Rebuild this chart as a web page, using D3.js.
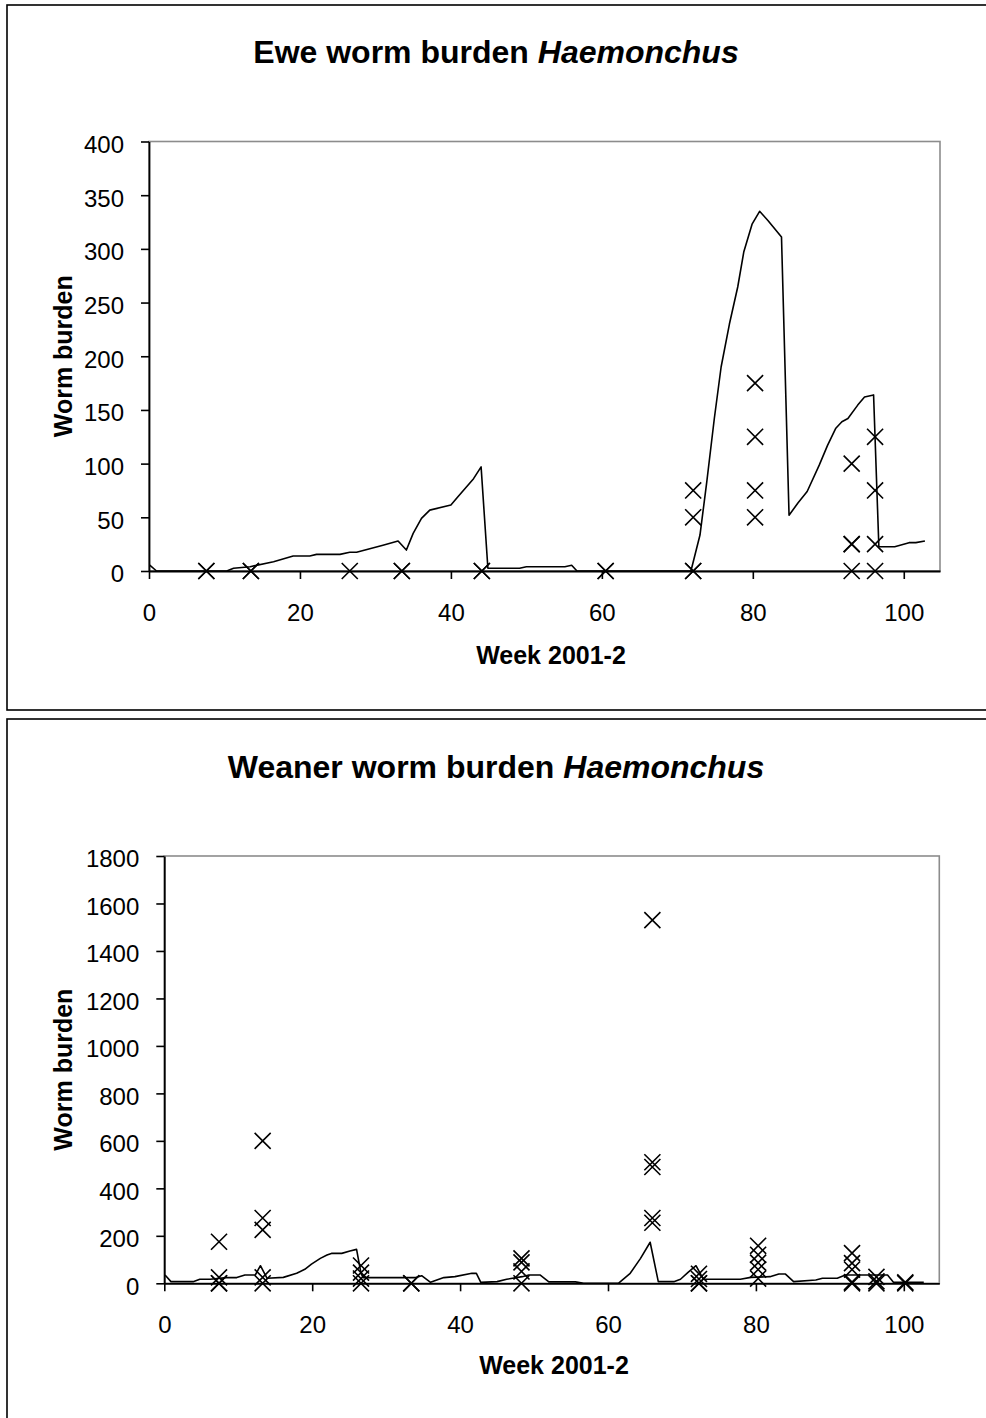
<!DOCTYPE html>
<html>
<head>
<meta charset="utf-8">
<script src="https://cdn.jsdelivr.net/npm/d3@7"></script>
<style>
  body { margin: 0; background: #fff; }
  svg { display: block; font-family: "Liberation Sans", Arial, sans-serif; }
</style>
</head>
<body>
<div class="wormCharts"></div>
<script>
// tick labels
const weekTicks = [0, 20, 40, 60, 80, 100];
const eweTicks = [0, 50, 100, 150, 200, 250, 300, 350, 400];
const weanerTicks = [0, 200, 400, 600, 800, 1000, 1200, 1400, 1600, 1800];

// ewe model line (week, burden)
const eweLineWeek = [0.1, 1, 10.3, 11.2, 13.4, 16.5, 19.1, 21.3, 22.2, 25.3, 26.6, 27.5, 31, 33, 34.1, 35, 36.1, 37.2,
  40, 40.9, 43, 44, 44.9, 49.1, 50, 55.1, 56, 56.7, 71.8, 73, 73.9, 74.9, 75.8, 76.9, 78, 78.8, 79.9, 80.9, 82,
  83.8, 84.8, 86, 87.2, 88.8, 89.9, 91, 91.8, 92.6, 93.9, 94.8, 96, 96.7, 98.8, 100.7, 101.6, 102.8];
const eweLineBurden = [5.5, 0, 0, 2.5, 4, 8.7, 14, 14, 15.5, 15.5, 17.4, 17.4, 24, 28, 19.5, 35, 49, 56.7,
  61.4, 69, 86, 97, 2.5, 2.5, 4, 4, 5.3, 0, 0, 33.5, 83, 142, 190, 230, 264.5, 297, 323, 335, 326.5,
  311, 52, 63.5, 74, 98.6, 117, 133, 139, 142, 154.5, 162, 164, 22.6, 22.6, 26.4, 26.4, 28];

// ewe observed counts
const eweObsWeek = [7.6, 7.6, 13.5, 13.5, 26.6, 33.5, 33.5, 44.1, 44.1, 60.5, 60.5, 72.1, 72.1, 72.1, 72.1,
  80.3, 80.3, 80.3, 80.3, 93.1, 93.1, 93.1, 93.1, 96.2, 96.2, 96.2, 96.2];
const eweObsBurden = [0, 0, 0, 0, 0, 0, 0, 0, 0, 0, 0, 75, 50, 0, 0,
  175, 125, 75, 50, 100, 25, 25, 0, 125, 75, 25, 0];

// weaner model line (week, burden)
const weanerLineWeek = [0.1, 0.9, 3.9, 4.8, 6.2, 8.4, 9.8, 10.9, 12.3, 13, 13.9, 16.1, 17.9, 19, 19.9, 21.1, 22,
  22.6, 24, 25.1, 26, 26.6, 26.9, 34, 34.8, 36, 37.8, 39.3, 41.6, 42.2, 42.8, 45, 46.3, 48.4, 49.3, 50.8, 52,
  55.6, 56.7, 61.4, 63, 64.4, 65.7, 66.8, 68.9, 69.8, 70.9, 71.9, 72.9, 77.9, 79.3, 81.9, 83.1, 84, 85.1,
  88.1, 89, 91, 92.1, 97.8, 98.6, 102.7];
const weanerLineBurden = [35, 7, 7, 17, 17, 24, 24, 35, 35, 74, 21, 25, 42, 59, 81, 105, 119,
  126, 126, 136, 143, 42, 24, 24, 32, 4, 24, 28, 42, 42, 4, 7, 17, 28, 35, 35, 6,
  6, 0, 0, 42, 105, 173, 7, 7, 17, 48, 74, 17, 17, 25, 28, 39, 39, 7,
  14, 21, 21, 35, 35, 4, 4];

// weaner observed counts
const weanerObsWeek = [7.4, 7.4, 7.4, 7.4, 13.3, 13.3, 13.3, 13.3, 13.3, 26.6, 26.6, 26.6, 26.6, 33.4, 33.4,
  48.3, 48.3, 48.3, 48.3, 66, 66, 66, 66, 66, 72.3, 72.3, 72.3, 72.3,
  80.3, 80.3, 80.3, 80.3, 80.3, 93, 93, 93, 93, 93, 96.3, 96.3, 96.3, 100.2, 100.2];
const weanerObsBurden = [175, 25, 0, 0, 600, 275, 225, 25, 0, 75, 45, 20, 0, 0, 0,
  105, 88, 50, 0, 1530, 510, 490, 275, 255, 40, 18, 0, 0,
  158, 120, 87, 58, 20, 127, 85, 58, 5, 0, 27, 8, 0, 4, 0];

function wormBurdenCharts() {
    const width = 986, height = 1418;
    const fontTick = '24px', fontTitle = '32px', fontAxis = '25px';

    const svg = d3.select('.wormCharts')
        .append('svg')
        .attr('width', width)
        .attr('height', height);

    function drawPanel(cfg) {
        const g = svg.append('g');

        // outer chart border
        g.append('rect')
            .attr('x', cfg.box[0]).attr('y', cfg.box[1])
            .attr('width', cfg.box[2]).attr('height', cfg.box[3])
            .attr('fill', 'none').attr('stroke', '#000').attr('stroke-width', 1.6);

        const scaleX = d3.scaleLinear()
            .domain([0, 104.8])
            .range([cfg.left, cfg.right]);
        const scaleY = d3.scaleLinear()
            .domain([0, cfg.yMax])
            .range([cfg.bottom, cfg.top]);

        // plot area frame (grey)
        g.append('rect')
            .attr('x', cfg.left).attr('y', cfg.top)
            .attr('width', cfg.right - cfg.left).attr('height', cfg.bottom - cfg.top)
            .attr('fill', 'none').attr('stroke', '#8c8c8c').attr('stroke-width', 1.6);

        // model line
        const line = d3.line().x(d => scaleX(d[0])).y(d => scaleY(d[1]));
        g.append('path')
            .datum(d3.zip(cfg.lineWeek, cfg.lineBurden))
            .attr('d', line)
            .attr('fill', 'none').attr('stroke', '#000').attr('stroke-width', 1.6)
            .attr('stroke-linejoin', 'round');

        // axes
        const yAxis = g.append('g')
            .attr('transform', `translate(${cfg.left}, 0)`)
            .call(d3.axisLeft(scaleY).tickValues(cfg.yTicks).tickFormat(d3.format('d'))
                .tickSize(8).tickSizeOuter(0).tickPadding(17));
        const xAxis = g.append('g')
            .attr('transform', `translate(0, ${cfg.bottom})`)
            .call(d3.axisBottom(scaleX).tickValues(weekTicks).tickFormat(d3.format('d'))
                .tickSize(8).tickSizeOuter(0).tickPadding(25));

        [yAxis, xAxis].forEach(ax => {
            ax.select('.domain').attr('stroke', '#000').attr('stroke-width', 1.8);
            ax.selectAll('.tick line').attr('stroke', '#000').attr('stroke-width', 1.6);
            ax.selectAll('.tick text')
                .attr('fill', '#000')
                .style('font-size', fontTick)
                .style('font-family', '"Liberation Sans", Arial, sans-serif');
        });
        yAxis.selectAll('.tick text').attr('dy', '0.45em');

        // observed counts as crosses
        const cross = d3.symbol().type(d3.symbolX).size(170);
        g.append('g')
            .selectAll('path')
            .data(d3.zip(cfg.obsWeek, cfg.obsBurden))
            .join('path')
            .attr('transform', d => `translate(${scaleX(d[0])}, ${scaleY(d[1])})`)
            .attr('d', cross)
            .attr('fill', 'none').attr('stroke', '#000').attr('stroke-width', 1.6);

        // titles
        const title = g.append('text')
            .attr('x', cfg.titleX).attr('y', cfg.titleY)
            .attr('text-anchor', 'middle')
            .style('font-size', fontTitle).style('font-weight', 'bold');
        title.append('tspan').text(cfg.title + ' ');
        title.append('tspan').style('font-style', 'italic').text('Haemonchus');

        g.append('text')
            .attr('transform', `translate(${cfg.yTitleX}, ${(cfg.top + cfg.bottom) / 2}) rotate(-90)`)
            .attr('text-anchor', 'middle')
            .style('font-size', fontAxis).style('font-weight', 'bold')
            .text('Worm burden');

        g.append('text')
            .attr('x', cfg.xTitleX).attr('y', cfg.xTitleY)
            .attr('text-anchor', 'middle')
            .style('font-size', fontAxis).style('font-weight', 'bold')
            .text('Week 2001-2');
    }

    drawPanel({
        box: [7, 5, 990, 705],
        left: 149, right: 940, top: 141.5, bottom: 571,
        yMax: 400, yTicks: eweTicks,
        lineWeek: eweLineWeek, lineBurden: eweLineBurden,
        obsWeek: eweObsWeek, obsBurden: eweObsBurden,
        title: 'Ewe worm burden', titleX: 496, titleY: 63,
        yTitleX: 72, xTitleX: 551, xTitleY: 664
    });

    drawPanel({
        box: [7, 719, 990, 720],
        left: 164.3, right: 939.3, top: 856, bottom: 1283.3,
        yMax: 1800, yTicks: weanerTicks,
        lineWeek: weanerLineWeek, lineBurden: weanerLineBurden,
        obsWeek: weanerObsWeek, obsBurden: weanerObsBurden,
        title: 'Weaner worm burden', titleX: 496, titleY: 778,
        yTitleX: 72, xTitleX: 554, xTitleY: 1374
    });
}

wormBurdenCharts();
</script>
</body>
</html>
